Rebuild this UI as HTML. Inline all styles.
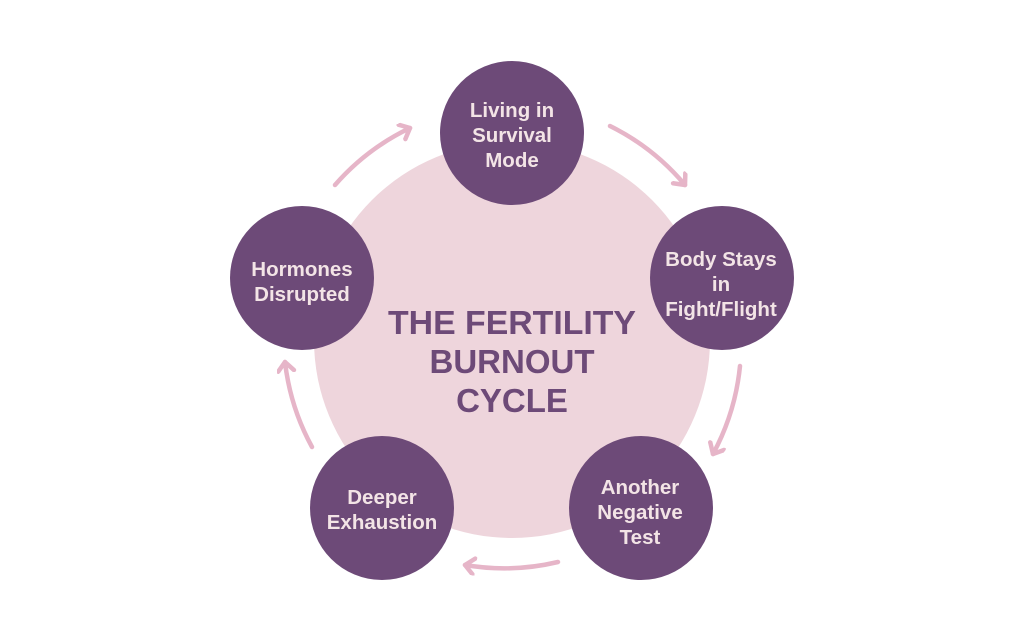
<!DOCTYPE html>
<html><head><meta charset="utf-8"><style>
html,body{margin:0;padding:0;background:#fff;}
svg{display:block;}
.t{font-family:"Liberation Sans",sans-serif;font-weight:bold;}
</style></head><body>
<svg width="1024" height="630" viewBox="0 0 1024 630">
<defs>
<marker id="ah" markerWidth="20" markerHeight="20" refX="11" refY="9" orient="auto" markerUnits="userSpaceOnUse">
<path d="M2,1 L11,9 L2,17" fill="none" stroke="#e6b5c8" stroke-width="4.5" stroke-linecap="round" stroke-linejoin="round"/>
</marker>
</defs>
<circle cx="512" cy="340" r="198" fill="#eed5dc"/>
<g fill="none" stroke="#e6b5c8" stroke-width="4.5" stroke-linecap="round" marker-end="url(#ah)">
<path d="M335,185 A233,233 0 0 1 410,128"/>
<path d="M610,126 A233,233 0 0 1 685,185"/>
<path d="M740,366 A233,233 0 0 1 713,454"/>
<path d="M558,562 A233,233 0 0 1 465,565"/>
<path d="M312,447 A233,233 0 0 1 285,362"/>
</g>
<g fill="#6d4a78">
<circle cx="512" cy="133" r="72"/>
<circle cx="722" cy="278" r="72"/>
<circle cx="641" cy="508" r="72"/>
<circle cx="382" cy="508" r="72"/>
<circle cx="302" cy="278" r="72"/>
</g>
<g class="t" fill="#f3e4e6" font-size="20.5" text-anchor="middle">
<text x="512" y="117">Living in</text>
<text x="512" y="142">Survival</text>
<text x="512" y="167">Mode</text>
<text x="721" y="266">Body Stays</text>
<text x="721" y="291">in</text>
<text x="721" y="316">Fight/Flight</text>
<text x="640" y="494">Another</text>
<text x="640" y="519">Negative</text>
<text x="640" y="544">Test</text>
<text x="382" y="504">Deeper</text>
<text x="382" y="529">Exhaustion</text>
<text x="302" y="276">Hormones</text>
<text x="302" y="301">Disrupted</text>
</g>
<g class="t" fill="#6d4a78" font-size="33" text-anchor="middle">
<text x="512" y="334" textLength="248" lengthAdjust="spacingAndGlyphs">THE FERTILITY</text>
<text x="512" y="373">BURNOUT</text>
<text x="512" y="412">CYCLE</text>
</g>
</svg>
</body></html>
